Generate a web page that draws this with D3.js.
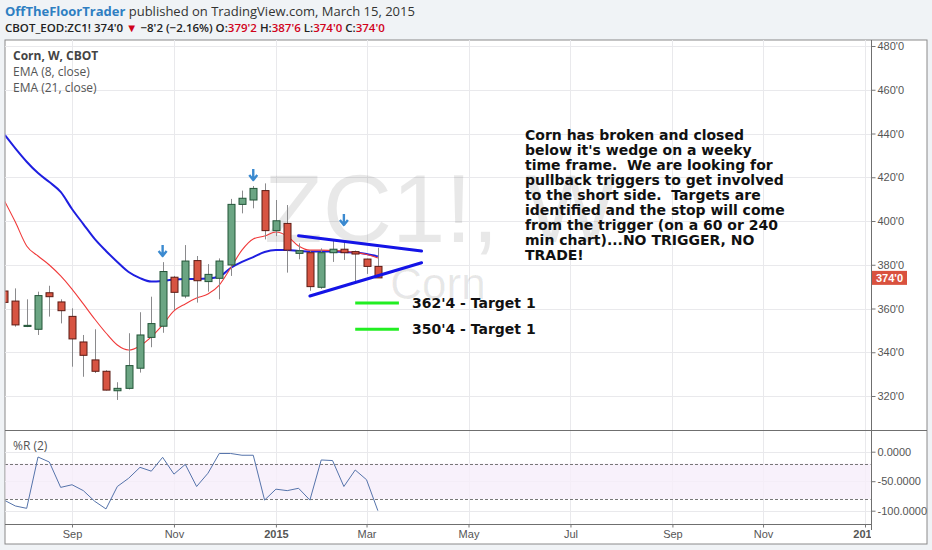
<!DOCTYPE html>
<html><head><meta charset="utf-8">
<script src="https://cdn.jsdelivr.net/npm/d3@7"></script>
<style>
html,body{margin:0;padding:0;background:#f0f3f6;}
svg{display:block;}
</style></head><body>
<svg id="c" width="932" height="550"></svg>
<script>
// ---------------- data ----------------
const weeks = ["2014-07-21","2014-07-28","2014-08-04","2014-08-11","2014-08-18","2014-08-25","2014-09-01","2014-09-08","2014-09-15","2014-09-22","2014-09-29","2014-10-06","2014-10-13","2014-10-20","2014-10-27","2014-11-03","2014-11-10","2014-11-17","2014-11-24","2014-12-01","2014-12-08","2014-12-15","2014-12-22","2014-12-29","2015-01-05","2015-01-12","2015-01-19","2015-01-26","2015-02-02","2015-02-09","2015-02-16","2015-02-23","2015-03-02","2015-03-09"];
const openP  = [368,363.4,351.8,350.5,367.2,363,356.4,344.7,336.5,331.3,322.4,323.5,332.7,346.8,351.9,374.3,365.7,381.9,372.3,373.8,379.9,407.6,409.6,413.9,395.6,398.9,385.2,385.5,369.7,385.5,387.1,386,382.6,379.25];
const highP  = [370,369.2,364.2,367.7,370.4,364.2,360.1,347.9,350.5,331.8,326.3,348.7,358.3,365.4,381.2,374.9,389,384,380.3,382.9,410.1,413.9,416,417.2,409.6,407.3,389.8,386.5,387.5,391,391.3,386.5,382.8,387.75];
const lowP   = [361,351.7,351.5,347.9,356.3,353.2,333.4,328.8,330.5,322.5,318.2,323,330.7,342.3,348.9,359.3,364.7,362.7,367.7,364.2,374.9,403.5,405.8,391.6,393.1,376.4,382.5,368.1,369,381.3,382.2,372.3,375.8,374];
const closeP = [362.8,352.5,352.3,365.9,365.4,359,346.1,338.6,331.3,322.7,323.5,333.9,347.9,353.1,376.9,367.4,381.7,372.7,375.6,381.7,407.6,410.4,414.9,395.6,400.1,386.7,386.4,370,385.5,387.1,385.5,384.9,379.25,374];
const ema8   = [409.6,399.5,388.6,384,379.9,374.9,368.9,362.1,355.2,348.8,343.3,341,342.9,347,352.5,358.9,362.1,364.8,366.6,370.7,378.5,386.7,391.8,393.1,395,393.1,388.6,386.7,386.7,386.5,386.3,385.6,384.7,383.1];
const ema21  = [439.8,433.2,427.1,421.9,417.8,413.3,405.5,398.6,391.8,386.3,381.3,376.7,373.9,372.3,372.6,373.3,373.5,373.5,373.7,374.6,378.5,381.3,383.5,385.8,386.7,386.7,386.3,386.1,386.1,386.1,385.8,385.6,384.9,383.8];
const willR  = [-82,-92,-96,-9,-17.5,-60.5,-56,-66,-84,-97,-59,-45,-26.5,-33,-9.5,-38,-21.5,-59,-36.5,-3,-3,-6,-6,-82,-63.5,-66,-62,-82,-14,-15,-59,-31,-47.5,-100];

const priceTicks = [320,340,360,380,400,420,440,460,480];
const timeTicks = ["2014-09-01","2014-11-03","2015-01-05","2015-03-02","2015-05-04","2015-07-06","2015-09-07","2015-11-02","2016-01-04"];
const timeTickLabels = ["Sep","Nov","2015","Mar","May","Jul","Sep","Nov","2016"];
const wrTicks = [0,-50,-100];
const wrTickLabels = ["0.0000","-50.0000","-100.0000"];
const wrLevels = [-20,-80];

const arrowDates = ["2014-10-27","2014-12-22","2015-02-16"];
const arrowPrices = [384,418.7,398.2];
const wedgeUpper = [["2015-01-19",393.3],["2015-04-05",386.3]];
const wedgeLower = [["2015-01-26",365.7],["2015-04-05",380.9]];
const targetPrices = [362.5,350.5];
const targetLabels = ["362'4 - Target 1","350'4 - Target 1"];
const targetRange = ["2015-02-23","2015-03-22"];
const lastPrice = 374;
const noteLines = ["Corn has broken and closed","below it's wedge on a weeky","time frame.  We are looking for","pullback triggers to get involved","to the short side.  Targets are","identified and the stop will come","from the trigger (on a 60 or 240","min chart)...NO TRIGGER, NO","TRADE!"];

// ---------------- layout ----------------
const parse = d3.timeParse("%Y-%m-%d");
const fmtP = v => { const w = Math.floor(v + 1e-9); const f = Math.round((v - w) * 8); return w + "'" + f; };
const L = 5, R = 871, T = 40, MB = 430, LB = 524, FR = 927, FB = 544;
const svg = d3.select("#c");
const AX = "'Liberation Sans', Arial, sans-serif";
const UI = "'Open Sans', 'Liberation Sans', sans-serif";

const x = d3.scaleTime().domain([parse("2014-09-01"), parse("2016-01-04")]).range([72, 865]);
const y = d3.scaleLinear().domain([320, 480]).range([396, 46]);
const yw = d3.scaleLinear().domain([0, -100]).range([451.7, 510.7]);

// header
const h1 = svg.append("text").attr("x", 5).attr("y", 16).attr("font-family", UI).attr("font-size", 13);
h1.append("tspan").attr("fill", "#2e7fc2").attr("font-weight", "bold").text("OffTheFloorTrader");
h1.append("tspan").attr("fill", "#333").text(" published on TradingView.com, March 15, 2015");
const h2 = svg.append("text").attr("x", 5).attr("y", 32).attr("font-family", UI).attr("font-size", 11.5).attr("font-weight", 600).attr("fill", "#222");
h2.append("tspan").text("CBOT_EOD:ZC1! 374'0 ");
h2.append("tspan").attr("fill", "#d0021b").text("▼");
h2.append("tspan").text(" −8'2 (−2.16%) O:");
h2.append("tspan").attr("fill", "#d0021b").text("379'2");
h2.append("tspan").text(" H:");
h2.append("tspan").attr("fill", "#d0021b").text("387'6");
h2.append("tspan").text(" L:");
h2.append("tspan").attr("fill", "#d0021b").text("374'0");
h2.append("tspan").text(" C:");
h2.append("tspan").attr("fill", "#d0021b").text("374'0");

// frame
svg.append("rect").attr("x", L).attr("y", T).attr("width", FR - L).attr("height", FB - T).attr("fill", "#fff").attr("stroke", "#8a8a8a").attr("stroke-width", 1);

const defs = svg.append("defs");
defs.append("clipPath").attr("id", "mainClip").append("rect").attr("x", L + 0.5).attr("y", T + 0.5).attr("width", R - L - 1).attr("height", MB - T - 1);
defs.append("clipPath").attr("id", "lowClip").append("rect").attr("x", L + 0.5).attr("y", MB + 0.5).attr("width", R - L - 1).attr("height", LB - MB - 1);
defs.append("clipPath").attr("id", "axClip").append("rect").attr("x", L).attr("y", LB).attr("width", R - L).attr("height", FB - LB);

// grid
const grid = svg.append("g").attr("stroke", "#e9e9ec").attr("stroke-width", 1);
timeTicks.forEach(t => {
  const xx = Math.round(x(parse(t))) + 0.5;
  grid.append("line").attr("x1", xx).attr("x2", xx).attr("y1", T).attr("y2", LB);
});
priceTicks.forEach(p => {
  const yy = Math.round(y(p)) + 0.5;
  grid.append("line").attr("x1", L).attr("x2", R).attr("y1", yy).attr("y2", yy);
});
wrTicks.forEach(p => {
  const yy = Math.round(yw(p)) + 0.5;
  grid.append("line").attr("x1", L).attr("x2", R).attr("y1", yy).attr("y2", yy);
});

// main pane
const main = svg.append("g").attr("clip-path", "url(#mainClip)");
// watermark
main.append("text").attr("x", 440).attr("y", 242).attr("text-anchor", "middle").attr("font-family", AX).attr("font-size", 96).attr("fill", "#000").attr("fill-opacity", 0.09).text("ZC1!, W");
main.append("text").attr("x", 438).attr("y", 299).attr("text-anchor", "middle").attr("font-family", AX).attr("font-size", 44).attr("fill", "#000").attr("fill-opacity", 0.09).text("Corn");

// EMAs
const emaLine = arr => d3.line().x((d, i) => x(parse(weeks[i]))).y(d => y(d)).curve(d3.curveMonotoneX)(arr);
main.append("path").attr("d", emaLine(ema21)).attr("fill", "none").attr("stroke", "#1f1fe0").attr("stroke-width", 2);
main.append("path").attr("d", emaLine(ema8)).attr("fill", "none").attr("stroke", "#f03a3a").attr("stroke-width", 1.1);

// candles
const bw = 7;
const cg = main.append("g");
weeks.forEach((w, i) => {
  const cx = Math.round(x(parse(w))) + 0.5;
  const up = closeP[i] >= openP[i];
  cg.append("line").attr("x1", cx).attr("x2", cx).attr("y1", y(highP[i])).attr("y2", y(lowP[i])).attr("stroke", "#8a8a8c").attr("stroke-width", 1);
  const top = y(Math.max(openP[i], closeP[i])), bot = y(Math.min(openP[i], closeP[i]));
  cg.append("rect").attr("x", cx - bw / 2).attr("y", top).attr("width", bw).attr("height", Math.max(1, bot - top))
    .attr("fill", up ? "#6ba583" : "#d75442").attr("stroke", up ? "#225437" : "#5b1a13").attr("stroke-width", 1);
});

// wedge lines
[wedgeUpper, wedgeLower].forEach(wl => {
  main.append("line").attr("x1", x(parse(wl[0][0]))).attr("y1", y(wl[0][1])).attr("x2", x(parse(wl[1][0]))).attr("y2", y(wl[1][1]))
    .attr("stroke", "#1414e6").attr("stroke-width", 3).attr("stroke-linecap", "round");
});

// arrows
arrowDates.forEach((d, i) => {
  const ax = x(parse(d)), ay = y(arrowPrices[i]);
  main.append("path").attr("d", `M${ax},${ay - 11}L${ax},${ay - 1}M${ax - 4},${ay - 5}L${ax},${ay}L${ax + 4},${ay - 5}`)
    .attr("fill", "none").attr("stroke", "#3b8ad0").attr("stroke-width", 2.4).attr("stroke-linejoin", "round");
});

// targets
targetPrices.forEach((p, i) => {
  main.append("line").attr("x1", x(parse(targetRange[0]))).attr("x2", x(parse(targetRange[1]))).attr("y1", y(p)).attr("y2", y(p))
    .attr("stroke", "#22ee22").attr("stroke-width", 3);
  main.append("text").attr("x", x(parse(targetRange[1])) + 13).attr("y", y(p) + 5).attr("font-family", "'DejaVu Sans', Verdana, sans-serif")
    .attr("font-weight", "bold").attr("font-size", 14).attr("fill", "#111").text(targetLabels[i]);
});

// note
const note = main.append("text").attr("font-family", "'DejaVu Sans', Verdana, sans-serif").attr("font-weight", "bold").attr("font-size", 14)
  .attr("fill", "#111").style("white-space", "pre");
noteLines.forEach((l, i) => note.append("tspan").attr("x", 525).attr("y", 140 + i * 15).text(l));

// legend
const lg = svg.append("g").attr("font-family", UI).attr("font-size", 12).attr("fill", "#555");
lg.append("text").attr("x", 13).attr("y", 60).attr("font-weight", "bold").attr("fill", "#444").text("Corn, W, CBOT");
lg.append("text").attr("x", 13).attr("y", 76).text("EMA (8, close)");
lg.append("text").attr("x", 13).attr("y", 92).text("EMA (21, close)");

// lower pane
const low = svg.append("g").attr("clip-path", "url(#lowClip)");
low.append("rect").attr("x", L).attr("width", R - L).attr("y", yw(wrLevels[0])).attr("height", yw(wrLevels[1]) - yw(wrLevels[0])).attr("fill", "#f6eefa").attr("fill-opacity", 0.8);
wrLevels.forEach(v => {
  const yy = Math.round(yw(v)) + 0.5;
  low.append("line").attr("x1", L).attr("x2", R).attr("y1", yy).attr("y2", yy).attr("stroke", "#777").attr("stroke-dasharray", "3,2");
});
low.append("path").attr("d", d3.line().x((d, i) => x(parse(weeks[i]))).y(d => yw(d))(willR)).attr("fill", "none").attr("stroke", "#5573aa").attr("stroke-width", 1);
svg.append("text").attr("x", 13).attr("y", 450).attr("font-family", UI).attr("font-size", 12).attr("fill", "#555").text("%R (2)");

// pane borders
const bd = svg.append("g").attr("stroke", "#6f6f6f").attr("stroke-width", 1);
bd.append("line").attr("x1", L).attr("x2", FR).attr("y1", MB + 0.5).attr("y2", MB + 0.5);
bd.append("line").attr("x1", L).attr("x2", R).attr("y1", LB + 0.5).attr("y2", LB + 0.5);
bd.append("line").attr("x1", R + 0.5).attr("x2", R + 0.5).attr("y1", T).attr("y2", LB + 6);

// price axis
const pa = svg.append("g").attr("transform", `translate(${R + 0.5},0)`)
  .call(d3.axisRight(y).tickValues(priceTicks).tickSize(4).tickPadding(2).tickFormat(d => d + "'0"));
pa.select(".domain").remove();
pa.selectAll("line").attr("stroke", "#777");
pa.selectAll("text").attr("font-family", AX).attr("font-size", 11).attr("fill", "#555");
// last price label
const lpY = y(lastPrice);
svg.append("rect").attr("x", R + 1).attr("y", lpY - 7).attr("width", 35).attr("height", 14).attr("fill", "#d9513e");
svg.append("text").attr("x", R + 5).attr("y", lpY + 4).attr("font-family", AX).attr("font-size", 11).attr("font-weight", "bold").attr("fill", "#fff").text(fmtP(lastPrice));

// %R axis
const wa = svg.append("g").attr("transform", `translate(${R + 0.5},0)`)
  .call(d3.axisRight(yw).tickValues(wrTicks).tickSize(4).tickPadding(2).tickFormat((d, i) => wrTickLabels[i]));
wa.select(".domain").remove();
wa.selectAll("line").attr("stroke", "#777");
wa.selectAll("text").attr("font-family", AX).attr("font-size", 11).attr("fill", "#555");

// time axis
const ta = svg.append("g").attr("clip-path", "url(#axClip)").append("g").attr("transform", `translate(0,${LB + 0.5})`)
  .call(d3.axisBottom(x).tickValues(timeTicks.map(parse)).tickSize(3).tickPadding(3).tickFormat((d, i) => timeTickLabels[i]));
ta.select(".domain").remove();
ta.selectAll("line").attr("stroke", "#777");
ta.selectAll("text").attr("font-family", AX).attr("font-size", 11).attr("fill", "#555")
  .attr("font-weight", (d, i) => timeTickLabels[i].length === 4 ? "bold" : "normal");
</script>
</body></html>
